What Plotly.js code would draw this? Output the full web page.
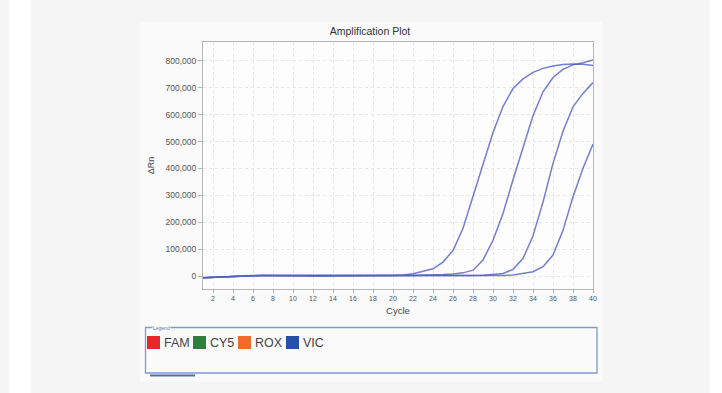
<!DOCTYPE html>
<html><head><meta charset="utf-8">
<script src="https://cdn.plot.ly/plotly-3.0.1.min.js"></script>
<style>html,body{margin:0;padding:0;background:#fff;}#chart{width:722px;height:393px;}</style>
</head><body><div id="chart"></div>
<script>
var cycles = [1,2,3,4,5,6,7,8,9,10,11,12,13,14,15,16,17,18,19,20,21,22,23,24,25,26,27,28,29,30,31,32,33,34,35,36,37,38,39,40];
var curveA = [-6000,-4000,-2000,-1000,0,2000,2500,2500,2000,1500,0,-500,-500,-500,0,500,1500,2000,2000,2500,4000,9000,17000,27000,52000,95000,178000,295000,412000,534000,630000,697000,733000,757000,772000,781000,786000,788000,787000,783000];
var curveB = [-6000,-4000,-2000,-1000,0,1500,2000,2000,1500,1000,0,-500,-500,-500,0,500,1000,1500,1500,2000,2000,2500,3000,4500,6000,8000,12000,22000,60000,133000,233000,358000,480000,596000,685000,738000,768000,785000,793000,803000];
var curveC = [-6000,-4000,-2000,-1000,0,1500,2000,2000,1500,1000,0,-500,-500,-500,0,0,500,1000,1000,1000,1000,1000,1000,1000,1000,1000,1500,2000,3500,6000,10000,25000,65000,150000,275000,419000,538000,629000,679000,719000];
var curveD = [-6000,-4000,-2000,-1000,0,1500,2000,2000,1500,1000,0,-500,-500,-500,0,0,500,500,500,500,500,0,0,0,0,0,0,0,500,1000,2000,4000,9000,16000,35000,78000,170000,295000,401000,491000];
var legendNames = ["FAM","CY5","ROX","VIC"];
var legendColors = ["#e8262b","#2f7d3b","#f26b2a","#2550a6"];

var lineColor = "rgba(80,95,195,0.8)";
var traces = [curveA, curveB, curveC, curveD].map(function(v){
  return {x: cycles, y: v, type: "scatter", mode: "lines", line: {color: lineColor, width: 1.5}, showlegend: false, hoverinfo: "skip"};
});

var L=203, R=593, T=42, B=289;
function px(x){return (x-L)/(R-L);}
function py(y){return (B-y)/(B-T);}
function rect(x0,y0,x1,y1,fill,line,lw){
  return {type:"rect",xref:"paper",yref:"paper",x0:px(x0),x1:px(x1),y0:py(y1),y1:py(y0),
    fillcolor:fill,line:{color:line||"rgba(0,0,0,0)",width:lw||0},layer:"below"};
}
var shapes = [
  rect(0,0,722,393,"#f5f5f5"),
  rect(9,0,31,393,"#ffffff"),
  rect(710,0,722,393,"#ffffff"),
  rect(140,22,602,382,"#fafafa"),
  rect(203,42,593,289,"#fdfdfd"),
  rect(145.5,327.5,597,373,"#fafafa","#7f9bcf",1.3),
  {type:"line",xref:"paper",yref:"paper",x0:px(150),x1:px(195),y0:py(375.5),y1:py(375.5),line:{color:"#4d6db3",width:2},layer:"below"}
];
var annotations = [
  {xref:"paper",yref:"paper",x:px(152),y:py(327.5),xanchor:"left",yanchor:"middle",text:"Legend",showarrow:false,
   font:{family:"Liberation Sans, Arial",size:5,color:"#5a78b0"},bgcolor:"#fafafa",borderpad:0}
];
var sqX = [147,193,238,286];
for (var i=0;i<legendNames.length;i++){
  shapes.push({type:"rect",xref:"paper",yref:"paper",x0:px(sqX[i]),x1:px(sqX[i]+13),y0:py(349),y1:py(336),
    fillcolor:legendColors[i],line:{width:0},layer:"above"});
  annotations.push({xref:"paper",yref:"paper",x:px(sqX[i]+15),y:py(342.5),xanchor:"left",yanchor:"middle",
    text:legendNames[i],showarrow:false,font:{family:"Liberation Sans, Arial",size:12.5,color:"#444"}});
}

var layout = {
  width:722, height:393,
  margin:{l:L, r:722-R, t:T, b:393-B, pad:0},
  paper_bgcolor:"#f5f5f5",
  plot_bgcolor:"rgba(0,0,0,0)",
  title:{text:"Amplification Plot", x:370/722, xanchor:"center", y:1-31/393, yanchor:"middle",
    font:{family:"Liberation Sans, Arial", size:10.5, color:"#333"}},
  xaxis:{range:[1,40], tick0:2, dtick:2, showgrid:true, gridcolor:"#e6e6e6", griddash:"dot", gridwidth:1,
    zeroline:false, showline:true, linecolor:"#b5b5b5", linewidth:1, mirror:true,
    ticks:"outside", ticklen:3, tickcolor:"#b5b5b5", tickfont:{family:"Liberation Sans, Arial", size:7, color:"#555"},
    title:{text:"Cycle", standoff:5, font:{family:"Liberation Sans, Arial", size:9.5, color:"#444"}}},
  yaxis:{range:[-48000,870000], tick0:0, dtick:100000, tickformat:",d", showgrid:true, gridcolor:"#e6e6e6", griddash:"dot", gridwidth:1,
    zeroline:false, showline:true, linecolor:"#b5b5b5", linewidth:1, mirror:true,
    ticks:"outside", ticklen:4, tickcolor:"#b5b5b5", tickfont:{family:"Liberation Sans, Arial", size:8.5, color:"#555"},
    title:{text:"ΔRn", standoff:9, font:{family:"Liberation Sans, Arial", size:9, color:"#444"}}},
  shapes:shapes,
  annotations:annotations
};
Plotly.newPlot("chart", traces, layout, {displayModeBar:false, staticPlot:true});
</script></body></html>
